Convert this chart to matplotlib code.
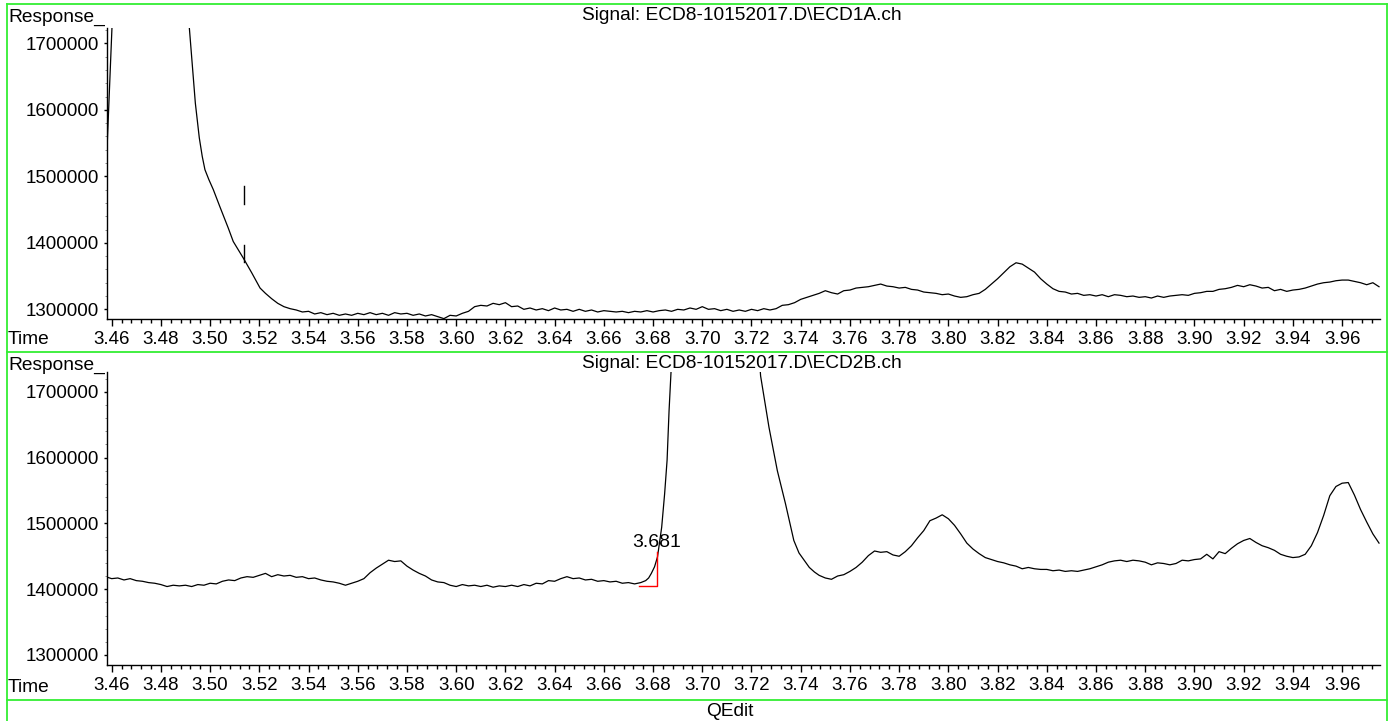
import numpy as np
import matplotlib
matplotlib.use("Agg")
import matplotlib.pyplot as plt
from matplotlib.lines import Line2D
from matplotlib.ticker import MultipleLocator, StrMethodFormatter

plt.rcParams['font.family'] = ['Liberation Sans', 'DejaVu Sans']

# ---- data (response values in thousands) ----
title_a = r"Signal: ECD8-10152017.D\ECD1A.ch"
title_b = r"Signal: ECD8-10152017.D\ECD2B.ch"

# ECD1A: front edge, then tail of a big off-scale peak, then regular samples
a_front_t = [3.4581, 3.4603]
a_front_v = [1540, 1740]
a_tail_t = [3.4912, 3.4925, 3.4940, 3.4956, 3.4968, 3.4979, 3.4995, 3.5013, 3.5040,
            3.5074, 3.5094, 3.5135, 3.5169, 3.5203]
a_tail_v = [1740, 1680, 1610, 1558, 1530, 1510, 1495, 1480, 1454,
            1422, 1402, 1377, 1355, 1332]
a_start, a_step = 3.5225, 0.0025
a_vals = [1324, 1316, 1309, 1304, 1301, 1299, 1296, 1297, 1293, 1295,
          1292, 1294, 1291, 1293, 1291, 1294, 1292, 1295, 1292, 1294,
          1291, 1295, 1293, 1294, 1291, 1293, 1290, 1292, 1289, 1286,
          1291, 1290, 1294, 1297, 1304, 1306, 1305, 1309, 1307, 1310,
          1304, 1305, 1300, 1302, 1299, 1301, 1298, 1302, 1299, 1300,
          1297, 1300, 1297, 1299, 1296, 1298, 1297, 1296, 1297, 1295,
          1297, 1296, 1298, 1296, 1298, 1299, 1297, 1300, 1299, 1302,
          1300, 1304, 1300, 1301, 1298, 1300, 1297, 1299, 1297, 1300,
          1298, 1301, 1299, 1301, 1306, 1307, 1310, 1315, 1318, 1321,
          1324, 1328, 1325, 1323, 1328, 1329, 1332, 1333, 1334, 1336,
          1338, 1335, 1334, 1332, 1333, 1330, 1329, 1326, 1325, 1324,
          1322, 1323, 1320, 1318, 1319, 1322, 1324, 1330, 1338, 1346,
          1355, 1364, 1370, 1368, 1362, 1356, 1346, 1338, 1331, 1327,
          1326, 1323, 1324, 1321, 1322, 1320, 1322, 1319, 1322, 1321,
          1319, 1320, 1318, 1319, 1317, 1320, 1318, 1320, 1321, 1322,
          1321, 1324, 1325, 1327, 1327, 1330, 1331, 1333, 1336, 1334,
          1337, 1335, 1332, 1333, 1328, 1330, 1327, 1329, 1330, 1332,
          1335, 1338, 1340, 1341, 1343, 1344, 1344, 1342, 1340, 1337,
          1340, 1334]
a_marks_t = 3.5136
a_marks_v = [(1371, 1397), (1458, 1485)]

# ECD2B: regular samples, steep rise, off-scale peak, descent, regular samples
b_start, b_step = 3.4575, 0.0025
b_vals = [1419, 1416, 1417, 1414, 1416, 1413, 1412, 1410, 1409, 1407,
          1404, 1406, 1405, 1406, 1404, 1407, 1406, 1409, 1408, 1412,
          1414, 1413, 1417, 1419, 1418, 1421, 1424, 1419, 1422, 1420,
          1421, 1418, 1419, 1416, 1417, 1414, 1412, 1411, 1409, 1406,
          1409, 1412, 1416, 1425, 1432, 1438, 1444, 1442, 1443, 1435,
          1429, 1424, 1420, 1414, 1411, 1410, 1406, 1404, 1407, 1405,
          1406, 1404, 1406, 1403, 1405, 1404, 1406, 1404, 1407, 1405,
          1409, 1408, 1413, 1412, 1416, 1419, 1416, 1417, 1414, 1415,
          1412, 1413, 1411, 1412, 1409, 1410, 1408, 1410]
b_rise_t = [3.6770, 3.6782, 3.6793, 3.6806, 3.6818, 3.6835, 3.6847, 3.6857, 3.6865, 3.6872, 3.6875]
b_rise_v = [1413, 1417, 1424, 1434, 1449, 1494, 1545, 1596, 1671, 1724, 1745]
b_fall_t = [3.7233, 3.7237, 3.7271, 3.7305, 3.7338, 3.7372, 3.7393, 3.7414, 3.7435, 3.7456]
b_fall_v = [1745, 1724, 1646, 1580, 1530, 1474, 1455, 1444, 1433, 1426]
b2_start = 3.7475
b2_vals = [1421, 1417, 1415, 1420, 1422, 1427, 1433, 1441, 1451, 1458,
           1456, 1457, 1452, 1450, 1457, 1466, 1478, 1489, 1504, 1508,
           1513, 1507, 1497, 1484, 1470, 1461, 1454, 1448, 1445, 1442,
           1440, 1437, 1435, 1431, 1433, 1431, 1430, 1430, 1428, 1429,
           1427, 1428, 1427, 1429, 1431, 1434, 1437, 1441, 1443, 1444,
           1442, 1444, 1443, 1441, 1437, 1440, 1439, 1437, 1439, 1444,
           1443, 1445, 1446, 1453, 1446, 1457, 1454, 1462, 1469, 1474,
           1477, 1471, 1466, 1463, 1459, 1453, 1450, 1448, 1449, 1453,
           1466, 1486, 1512, 1542, 1556, 1561, 1562, 1543, 1521, 1502,
           1484, 1470]
peak_label = "3.681"
peak_start, peak_rt = 3.6744, 3.6815
peak_base, peak_top = 1404.5, 1456.5


def grid(start, step, vals):
    return start + step * np.arange(len(vals))


t_a = np.concatenate([a_front_t, [np.nan], a_tail_t, grid(a_start, a_step, a_vals)])
v_a = np.concatenate([a_front_v, [np.nan], a_tail_v, a_vals]) * 1000
t_b = np.concatenate([grid(b_start, b_step, b_vals), b_rise_t, [np.nan], b_fall_t,
                      grid(b2_start, b_step, b2_vals)])
v_b = np.concatenate([b_vals, b_rise_v, [np.nan], b_fall_v, b2_vals]) * 1000

W, H = 1390, 721
fig = plt.figure(figsize=(W / 100, H / 100), dpi=100)


def px(x, y):
    return x / W, 1 - y / H


def style(ax, ylim):
    ax.set_xlim(3.4581, 3.9754)
    ax.set_ylim(*ylim)
    for s in ['top', 'right']:
        ax.spines[s].set_visible(False)
    ax.spines['left'].set_linewidth(1)
    ax.spines['bottom'].set_linewidth(1)
    ax.xaxis.set_major_locator(MultipleLocator(0.02))
    ax.xaxis.set_minor_locator(MultipleLocator(0.004))
    ax.xaxis.set_major_formatter(StrMethodFormatter('{x:.2f}'))
    ax.yaxis.set_major_locator(MultipleLocator(100000))
    ax.yaxis.set_minor_locator(MultipleLocator(20000))
    ax.yaxis.set_major_formatter(StrMethodFormatter('{x:.0f}'))
    ax.tick_params(axis='x', which='major', length=5, width=1, pad=3.5, labelsize=13.5)
    ax.tick_params(axis='x', which='minor', length=3, width=1)
    ax.tick_params(axis='y', which='major', length=2.5, width=1, pad=3, labelsize=13.5)
    ax.tick_params(axis='y', which='minor', length=1.5, width=0.6, color='#777777')


ax1 = fig.add_axes([107 / W, 1 - 319.3 / H, 1273 / W, 291 / H])
ax1.plot(t_a, v_a, color='black', lw=0.9)
for lo, hi in a_marks_v:
    ax1.plot([a_marks_t, a_marks_t], [lo * 1000, hi * 1000], color='black', lw=1)
style(ax1, (1285000, 1722600))

ax2 = fig.add_axes([107 / W, 1 - 665 / H, 1273 / W, 293.3 / H])
ax2.plot(t_b, v_b, color='black', lw=0.9)
ax2.plot([peak_start, peak_rt, peak_rt], [peak_base * 1000, peak_base * 1000, peak_top * 1000],
         color='red', lw=1)
ax2.text(peak_rt, 1471500, peak_label, ha='center', va='center', fontsize=14)
style(ax2, (1284800, 1730400))

# text rows
fs = 13.8
for y0, title in [(0, title_a), (348, title_b)]:
    fig.text(*px(8, 17 + y0), "Response_", ha='left', va='center', fontsize=fs)
    fig.text(*px(742, 16 + y0), title, ha='center', va='center', fontsize=fs)
    fig.text(*px(8, 340 + y0), "Time", ha='left', va='center', fontsize=fs)
fig.text(*px(730, 711), "QEdit", ha='center', va='center', fontsize=fs)

# green frame lines
green = '#33ee33'
for y in [4, 352, 700]:
    fig.add_artist(Line2D([7 / W, 1387 / W], [1 - y / H, 1 - y / H], color=green, lw=1.3))
for x in [7, 1387]:
    fig.add_artist(Line2D([x / W, x / W], [1 - 4 / H, 0], color=green, lw=1.3))

fig.savefig('out.png', dpi=100)
